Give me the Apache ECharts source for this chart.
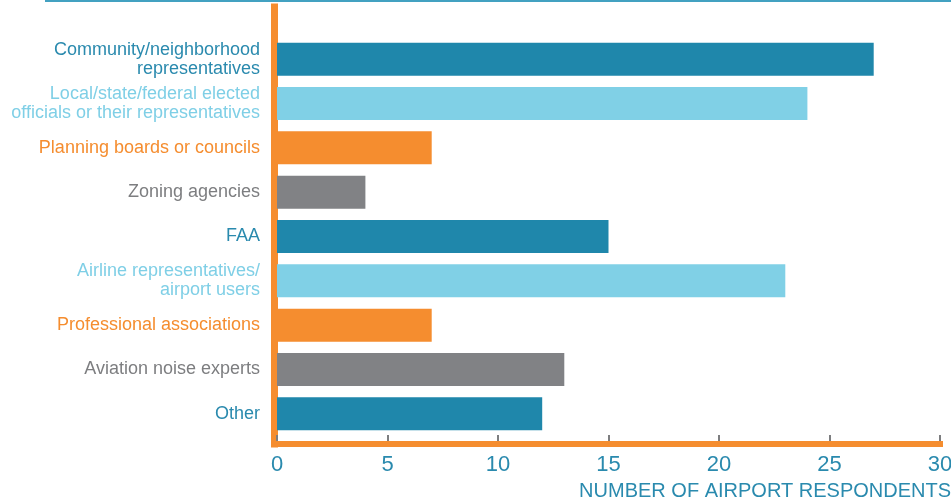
<!DOCTYPE html>
<html>
<head>
<meta charset="utf-8">
<script src="https://cdn.jsdelivr.net/npm/echarts@6/dist/echarts.min.js"></script>
<style>
  html, body { margin: 0; padding: 0; background: #fff; }
  #chart { width: 951px; height: 503px; }
</style>
</head>
<body>
<div id="chart"></div>
<script>
const categories = [
  "Community/neighborhood\nrepresentatives",
  "Local/state/federal elected\nofficials or their representatives",
  "Planning boards or councils",
  "Zoning agencies",
  "FAA",
  "Airline representatives/\nairport users",
  "Professional associations",
  "Aviation noise experts",
  "Other"
];
const respondents = [27, 24, 7, 4, 15, 23, 7, 13, 12];
const barColors = ["#1f87ab", "#80d0e6", "#f58d2f", "#818285"];
const labelColors = ["#2a8aae", "#7fcfe6", "#f58d2f", "#7d7e80"];
const xTicks = [0, 5, 10, 15, 20, 25, 30];

const FONT = "'Liberation Sans Narrow', 'Liberation Sans', Arial, sans-serif";
const TEAL = "#2a8aae";
const ORANGE = "#f58d2f";
const TICK = "#7d7e80";
const XMAX = xTicks[xTicks.length - 1];

const chart = echarts.init(document.getElementById("chart"));

chart.setOption({
  animation: false,
  graphic: [
    {
      type: "line",
      shape: { x1: 45, y1: 1, x2: 951, y2: 1 },
      style: { stroke: "#43a1c1", lineWidth: 2 }
    }
  ],
  grid: [
    // 0: bars (labels overflow to the left on purpose)
    { left: 277, right: 11, top: 37, bottom: 67, outerBoundsMode: "none", containLabel: false },
    // 1: orange frame lines
    { left: 274, right: 11, top: 7, bottom: 59 },
    // 2: gray ticks sitting on the orange line
    { left: 277, right: 11, top: 7, bottom: 62 },
    // 3: tick labels + axis name
    { left: 277, right: 11, top: 7, bottom: 59, outerBoundsMode: "none", containLabel: false }
  ],
  xAxis: [
    {
      // bar axis: its ticks hang down from the bottom of the bar area onto the orange line
      gridIndex: 0, type: "value", min: 0, max: XMAX, interval: 5, position: "bottom",
      axisLine: { show: false },
      axisTick: { show: true, length: 5, lineStyle: { color: TICK, width: 2 } },
      axisLabel: { show: false },
      splitLine: { show: false }
    },
    {
      gridIndex: 1, type: "value", min: 0, max: 1, position: "bottom",
      axisLine: { show: true, lineStyle: { color: ORANGE, width: 6, cap: "square" } },
      axisTick: { show: false }, axisLabel: { show: false }, splitLine: { show: false }
    },
    {
      gridIndex: 2, type: "value", min: 0, max: XMAX, interval: 5, position: "bottom",
      axisLine: { show: true, lineStyle: { color: "rgba(0,0,0,0)" } },
      axisTick: { show: true, inside: true, length: 6, lineStyle: { color: TICK, width: 2 } },
      axisLabel: { show: false },
      splitLine: { show: false }
    },
    {
      gridIndex: 3, type: "value", min: 0, max: XMAX, interval: 5, position: "bottom",
      axisLine: { show: false },
      axisTick: { show: false },
      splitLine: { show: false },
      axisLabel: { color: TEAL, fontFamily: FONT, fontSize: 22, margin: 10 },
      name: "NUMBER OF AIRPORT RESPONDENTS",
      nameLocation: "end",
      nameGap: 11,
      nameTextStyle: {
        color: TEAL, fontFamily: FONT, fontSize: 20,
        align: "right", verticalAlign: "top", padding: [37, 0, 0, 0]
      }
    }
  ],
  yAxis: [
    {
      gridIndex: 0, type: "category", data: categories, inverse: true,
      axisLine: { show: false },
      axisTick: { show: false },
      axisLabel: {
        margin: 17,
        fontFamily: FONT,
        fontSize: 18,
        lineHeight: 19,
        color: (v, i) => labelColors[i % 4]
      }
    },
    {
      gridIndex: 1, type: "value", min: 0, max: 1, position: "left",
      axisLine: { show: true, lineStyle: { color: ORANGE, width: 7, cap: "square" } },
      axisTick: { show: false }, axisLabel: { show: false }, splitLine: { show: false }
    },
    {
      gridIndex: 2, type: "value", min: 0, max: 1, position: "left",
      axisLine: { show: true, onZero: false, lineStyle: { color: "rgba(0,0,0,0)" } },
      axisTick: { show: false }, axisLabel: { show: false }, splitLine: { show: false }
    },
    { gridIndex: 3, type: "value", min: 0, max: 1, show: false }
  ],
  series: [
    {
      type: "bar",
      xAxisIndex: 0,
      yAxisIndex: 0,
      barWidth: 33,
      data: respondents.map((v, i) => ({ value: v, itemStyle: { color: barColors[i % 4] } }))
    }
  ]
});
</script>
</body>
</html>
